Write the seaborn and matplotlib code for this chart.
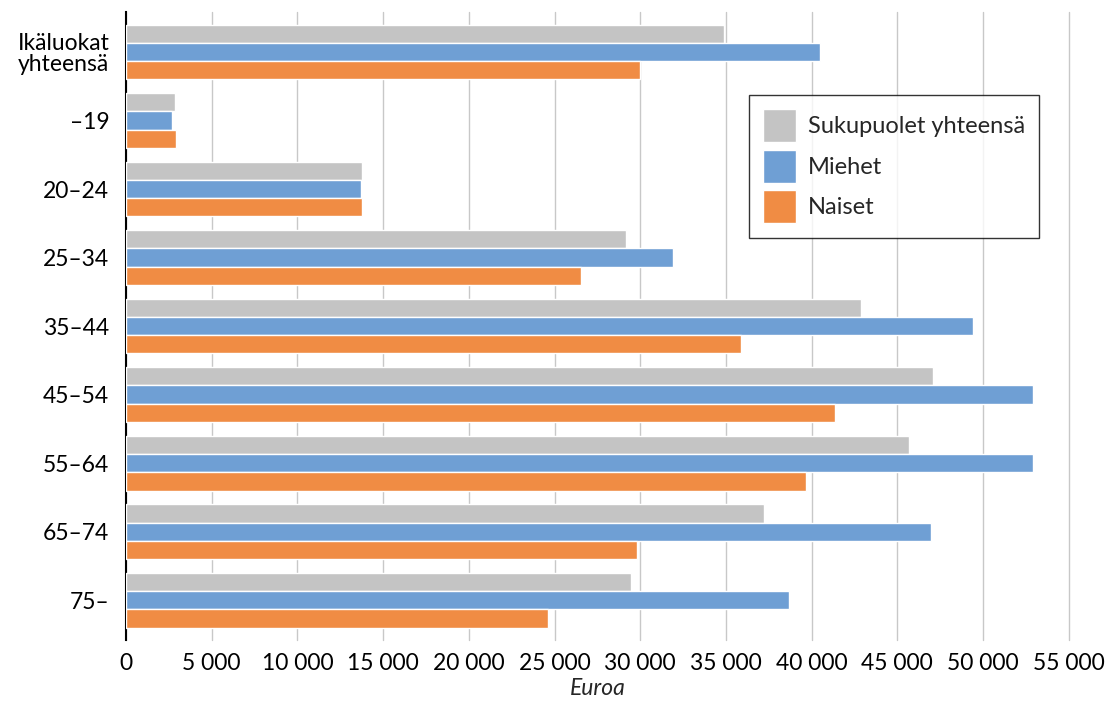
import pandas as pd
import seaborn as sns
import matplotlib.pyplot as plt
from matplotlib.ticker import FuncFormatter, MultipleLocator

age_groups = ['Ikäluokat\nyhteensä', '–19', '20–24', '25–34', '35–44', '45–54', '55–64', '65–74', '75–']
series = ['Sukupuolet yhteensä', 'Miehet', 'Naiset']
total = [34900, 2850, 13750, 29150, 42900, 47050, 45700, 37200, 29450]
men = [40500, 2700, 13700, 31900, 49400, 52900, 52900, 46950, 38650]
women = [30000, 2900, 13750, 26550, 35900, 41350, 39650, 29800, 24600]
colors = ['#C4C4C4', '#6F9FD4', '#F08C44']

rows = []
for name, vals in zip(series, [total, men, women]):
    for age, v in zip(age_groups, vals):
        rows.append({'age': age, 'value': v, 'sex': name})
df = pd.DataFrame(rows)

sns.set_style('white')
plt.rcParams['font.family'] = ['Lato', 'DejaVu Sans']

fig = plt.figure(figsize=(11.11, 7.02), dpi=100)
ax = fig.add_axes([0.1134, 0.088, 0.962 - 0.1134, 0.983 - 0.088])

sns.barplot(data=df, y='age', x='value', hue='sex', orient='h', palette=colors,
            saturation=1, width=0.8, edgecolor='white', linewidth=1, ax=ax, zorder=3)

ax.set_xlim(0, 55000)
ax.set_ylim(8.584, -0.584)
ax.xaxis.set_major_locator(MultipleLocator(5000))
ax.xaxis.set_major_formatter(FuncFormatter(lambda v, p: f'{int(v):,}'.replace(',', ' ')))
ax.grid(axis='x', color='#C8C8C8', linewidth=1, zorder=0)
for gl in ax.get_xgridlines():
    gl.set_clip_on(False)
ax.set_axisbelow(True)
for s in ['top', 'right', 'bottom']:
    ax.spines[s].set_visible(False)
ax.spines['left'].set_color('black')
ax.spines['left'].set_linewidth(1.5)
ax.tick_params(axis='both', length=0, labelsize=16.5, colors='black')
ax.tick_params(axis='y', pad=12)
ax.tick_params(axis='x', pad=9)
ax.set_ylabel('')
ax.set_xlabel('Euroa', fontsize=16.5, style='italic', labelpad=3)
for lbl in ax.get_yticklabels():
    lbl.set_horizontalalignment('right')
    lbl.set_multialignment('right')
    lbl.set_linespacing(1.0)

leg = ax.legend(loc='upper left', bbox_to_anchor=(0.661, 0.868), fontsize=17, frameon=True,
                fancybox=False, edgecolor='black', handlelength=1.4, handleheight=1.8,
                borderpad=0.6, labelspacing=0.3, handletextpad=0.5, borderaxespad=0)
leg.get_frame().set_linewidth(1)

fig.savefig('out.png', dpi=100)
